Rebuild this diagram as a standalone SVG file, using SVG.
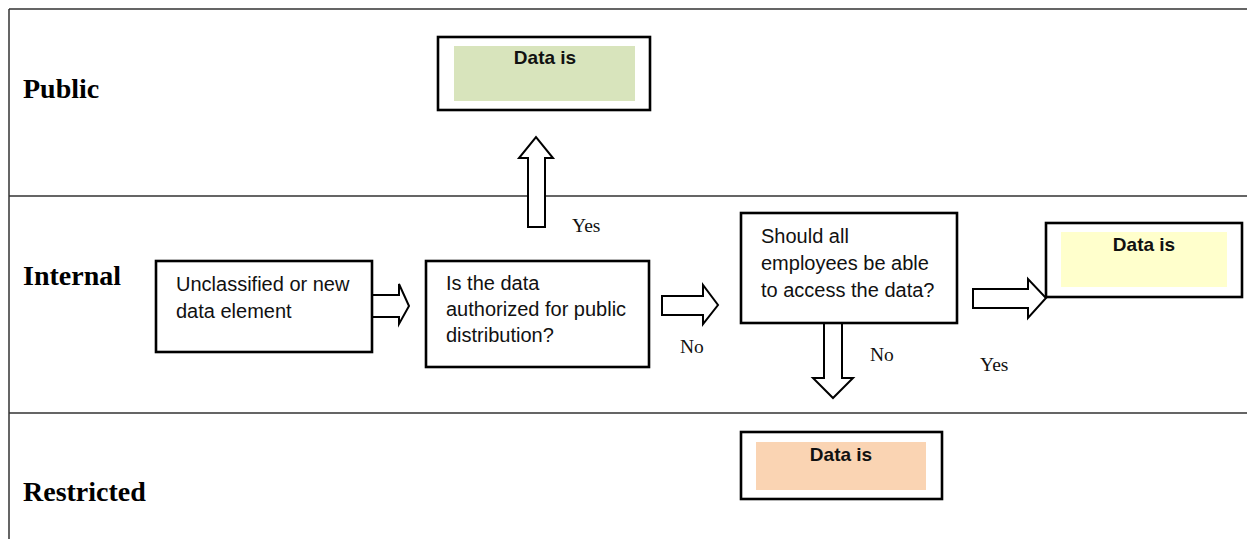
<svg xmlns="http://www.w3.org/2000/svg" width="1247" height="539" viewBox="0 0 1247 539">
<style>
.lane{stroke:#333;stroke-width:1.5;fill:none}
.box{fill:#fff;stroke:#000;stroke-width:2.6}
.arr{fill:#fff;stroke:#000;stroke-width:2;stroke-linejoin:miter}
.lbl{font-family:"Liberation Serif","Times New Roman",serif;font-weight:bold;font-size:28px;fill:#000}
.txt{font-family:"Liberation Sans",Arial,sans-serif;font-size:20px;fill:#111}
.hd{font-family:"Liberation Sans",Arial,sans-serif;font-size:19px;font-weight:bold;fill:#111;text-anchor:middle}
.yn{font-family:"Liberation Serif","Times New Roman",serif;font-size:19.5px;fill:#111}
</style>
<rect x="0" y="0" width="1247" height="539" fill="#fff"/>
<g id="lanes">
<path class="lane" d="M9,9 H1247 M9,9 V539 M9,196 H1247 M9,413 H1247"/>
<text class="lbl" x="23" y="98">Public</text>
<text class="lbl" x="23" y="285">Internal</text>
<text class="lbl" x="23" y="501">Restricted</text>
</g>
<g id="connectors">
<path class="arr" d="M528,227 V158 H519 L536,137 L553,158 H545 V227 Z"/>
<path class="arr" d="M372,295 H399 V284 L409,306 L399,324 V317 H372"/>
<path class="arr" d="M662,296 H703 V285 L718,305 L703,324 V315 H662 Z"/>
<path class="arr" d="M973,289 H1028 V279 L1046,298 L1028,318 V308 H973 Z"/>
<path class="arr" d="M824,323 V378 H813 L833,398 L853,378 H842 V323"/>
<text class="yn" x="572" y="232">Yes</text>
<text class="yn" x="680" y="353">No</text>
<text class="yn" x="870" y="361">No</text>
<text class="yn" x="980" y="371">Yes</text>
</g>
<g id="public-data">
<rect class="box" x="438" y="37" width="212" height="73"/>
<rect x="454" y="46" width="181" height="55" fill="#d8e4bc"/>
<text class="hd" x="545" y="64">Data is</text>
</g>
<g id="unclassified">
<rect class="box" x="156" y="261" width="216" height="91"/>
<text class="txt" x="176" y="291">Unclassified or new</text>
<text class="txt" x="176" y="318">data element</text>
</g>
<g id="authorized">
<rect class="box" x="426" y="261" width="223" height="106"/>
<text class="txt" x="446" y="290">Is the data</text>
<text class="txt" x="446" y="316">authorized for public</text>
<text class="txt" x="446" y="342">distribution?</text>
</g>
<g id="employees">
<rect class="box" x="741" y="213" width="216" height="110"/>
<text class="txt" x="761" y="243">Should all</text>
<text class="txt" x="761" y="270">employees be able</text>
<text class="txt" x="761" y="297">to access the data?</text>
</g>
<g id="internal-data">
<rect class="box" x="1046" y="223" width="196" height="74"/>
<rect x="1061" y="232" width="166" height="55" fill="#ffffcc"/>
<text class="hd" x="1144" y="251">Data is</text>
</g>
<g id="restricted-data">
<rect class="box" x="741" y="432" width="201" height="67"/>
<rect x="756" y="442" width="170" height="48" fill="#fad4b3"/>
<text class="hd" x="841" y="461">Data is</text>
</g>
</svg>
